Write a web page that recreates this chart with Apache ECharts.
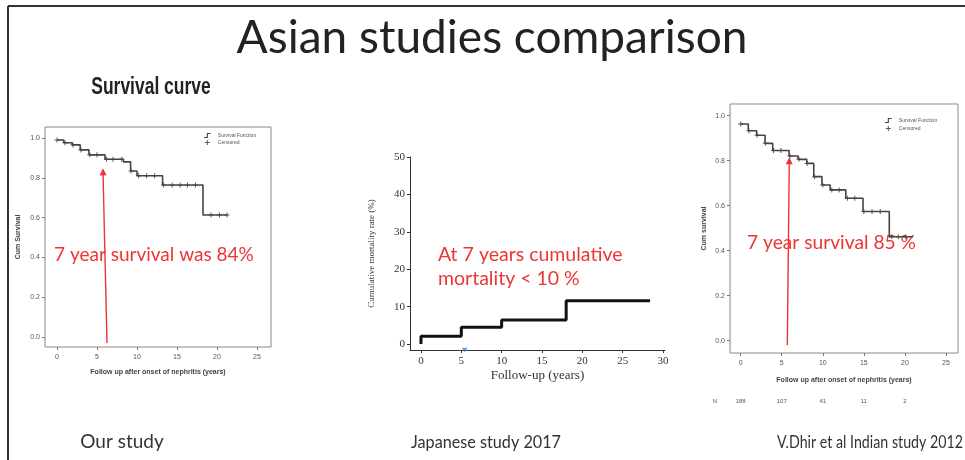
<!DOCTYPE html>
<html>
<head>
<meta charset="utf-8">
<script src="https://cdn.jsdelivr.net/npm/echarts@6/dist/echarts.min.js"></script>
<style>
html, body { margin: 0; padding: 0; background: #fff; }
#chart { width: 965px; height: 460px; }
</style>
</head>
<body>
<div id="chart"></div>
<script>
// ---- Our study: Kaplan–Meier survival (years, cumulative survival) ----
const ourTimes = [0, 0.85, 1.9, 2.9, 4, 6, 8.3, 9.2, 10, 13.2, 18.25, 21.3];
const ourSurv = [0.99, 0.976, 0.965, 0.94, 0.915, 0.893, 0.88, 0.834, 0.81, 0.764, 0.613, 0.613];
const ourCensored = [0, 1, 2, 3, 4.1, 5, 6.2, 7, 8.1, 9.25, 10.2, 11.2, 12.2, 13.3, 14.4, 15.4, 16.3, 17.3, 19.25, 20.3, 21.25];
const ourArrow = [[6.25, -0.03], [5.75, 0.83]];

// ---- Japanese study 2017: cumulative mortality rate (%) ----
const jpTimes = [0, 0, 5, 10, 18, 28.4];
const jpMortality = [0, 2.1, 4.5, 6.4, 11.6, 11.6];
const jpMarker = [5.5, -1.3];

// ---- V.Dhir et al Indian study 2012: Kaplan–Meier survival ----
const inTimes = [0, 0.93, 1.95, 2.97, 3.9, 5.9, 7.0, 8.05, 8.9, 9.9, 10.9, 12.8, 14.9, 18.1, 21];
const inSurv = [0.963, 0.933, 0.913, 0.877, 0.845, 0.821, 0.806, 0.788, 0.729, 0.692, 0.670, 0.633, 0.574, 0.462, 0.462];
const inCensored = [0, 1, 2, 3, 4, 4.9, 6, 7.1, 8.1, 9, 10, 11.1, 12, 13, 13.9, 15, 16, 17, 18.4, 19.2, 20.1];
const inArrow = [[5.68, -0.02], [5.92, 0.80]];
const riskTimes = [0, 5, 10, 15, 20];
const nAtRisk = [188, 107, 41, 11, 2];

// ---- tick labels ----
const survTicks = [0, 0.2, 0.4, 0.6, 0.8, 1.0];
const yearTicks25 = [0, 5, 10, 15, 20, 25];
const yearTicks30 = [0, 5, 10, 15, 20, 25, 30];
const mortTicks = [0, 10, 20, 30, 40, 50];

function zip(xs, ys) { return xs.map((x, i) => [x, ys[i]]); }
function survivalAt(times, surv, t) {
  let v = surv[0];
  for (let i = 0; i < times.length; i++) if (times[i] <= t) v = surv[i];
  return v;
}

const stepIcon = 'path://M0,9 H5 V2 H12 V4 H7 V11 H0 Z';
const plusIcon = 'path://M4,0 H6 V4 H10 V6 H6 V10 H4 V6 H0 V4 H4 Z';
const RED = '#ee3535';
const SPSS_GRAY = '#555';
const CAL = 'Lato, "Open Sans", sans-serif';
const SERIF = '"Liberation Serif", "DejaVu Serif", serif';

function spssX(gridIndex, min, max, nameGap) {
  return {
    type: 'value', gridIndex, min, max,
    name: 'Follow up after onset of nephritis (years)',
    nameLocation: 'middle', nameGap,
    nameTextStyle: { fontSize: 7, fontWeight: 'bold', color: '#444', fontFamily: 'Arial, sans-serif' },
    axisLine: { show: false, onZero: false },
    axisTick: { show: true, length: 3, lineStyle: { color: '#777' }, customValues: yearTicks25 },
    axisLabel: { fontSize: 7, color: SPSS_GRAY, margin: 7, customValues: yearTicks25, fontFamily: 'Arial, sans-serif' },
    splitLine: { show: false }
  };
}
function spssY(gridIndex, min, max, name, nameGap) {
  return {
    type: 'value', gridIndex, min, max,
    name, nameLocation: 'middle', nameGap, nameRotate: 90,
    nameTextStyle: { fontSize: 7, fontWeight: 'bold', color: '#444', fontFamily: 'Arial, sans-serif' },
    axisLine: { show: false, onZero: false },
    axisTick: { show: true, length: 3, lineStyle: { color: '#777' }, customValues: survTicks },
    axisLabel: { fontSize: 7, color: SPSS_GRAY, margin: 5, customValues: survTicks,
                 formatter: v => v.toFixed(1), fontFamily: 'Arial, sans-serif' },
    splitLine: { show: false }
  };
}

function caption(text, x, fontSize, scaleX) {
  return { type: 'text', x, y: 442, scaleX, originX: 0, originY: 0,
    style: { text, fontSize, fontFamily: CAL, fill: '#333', align: 'center', verticalAlign: 'middle' } };
}
function note(text, x, y, fontSize) {
  return { type: 'text', x, y,
    style: { text, fontSize, fontFamily: CAL, fill: RED, align: 'left', verticalAlign: 'middle' } };
}

const chart = echarts.init(document.getElementById('chart'), null, { renderer: 'canvas' });

chart.setOption({
  animation: false,
  backgroundColor: '#fff',
  grid: [
    { left: 45, top: 127, width: 226, height: 220, show: true, borderColor: '#888', borderWidth: 1, backgroundColor: 'transparent' },
    { left: 410, top: 157, width: 255, height: 193 },
    { left: 730, top: 104, width: 228, height: 249, show: true, borderColor: '#888', borderWidth: 1, backgroundColor: 'transparent' }
  ],
  xAxis: [
    spssX(0, -1.5, 26.75, 22),
    {
      type: 'value', gridIndex: 1, min: -1.36, max: 30.25,
      name: 'Follow-up (years)', nameLocation: 'middle', nameGap: 19,
      nameTextStyle: { fontSize: 13, color: '#333', fontFamily: SERIF },
      axisLine: { show: true, onZero: false, lineStyle: { color: '#333', width: 1 } },
      axisTick: { show: true, length: 3, lineStyle: { color: '#333' }, customValues: yearTicks30 },
      axisLabel: { fontSize: 11, color: '#333', margin: 6, customValues: yearTicks30, fontFamily: SERIF },
      splitLine: { show: false }
    },
    spssX(2, -1.3, 26.47, 24),
    {
      type: 'value', gridIndex: 2, min: -1.3, max: 26.47, position: 'bottom', offset: 48,
      name: 'N', nameLocation: 'start', nameGap: 13,
      nameTextStyle: { fontSize: 6, color: SPSS_GRAY, fontFamily: 'Arial, sans-serif', verticalAlign: 'middle' },
      axisLine: { show: false, onZero: false }, axisTick: { show: false },
      axisLabel: { fontSize: 6, color: SPSS_GRAY, margin: 0, verticalAlign: 'middle', customValues: riskTimes,
                   formatter: v => String(nAtRisk[riskTimes.indexOf(v)]), fontFamily: 'Arial, sans-serif' },
      splitLine: { show: false }
    }
  ],
  yAxis: [
    spssY(0, -0.05, 1.055, 'Cum Survival', 23),
    {
      type: 'value', gridIndex: 1, min: -1.6, max: 50,
      name: 'Cumulative mortality rate (%)', nameLocation: 'middle', nameGap: 34, nameRotate: 90,
      nameTextStyle: { fontSize: 9, color: '#333', fontFamily: SERIF },
      axisLine: { show: true, onZero: false, lineStyle: { color: '#333', width: 1 } },
      axisTick: { show: true, length: 3, lineStyle: { color: '#333' }, customValues: mortTicks },
      axisLabel: { fontSize: 11, color: '#333', margin: 5, customValues: mortTicks, fontFamily: SERIF },
      splitLine: { show: false }
    },
    spssY(2, -0.055, 1.052, 'Cum survival', 22)
  ],
  legend: [
    {
      left: 199, top: 128, orient: 'vertical', itemWidth: 11, itemHeight: 5, itemGap: 2,
      textStyle: { fontSize: 5, color: '#555' }, selectedMode: false,
      data: [{ name: 'Survival Function', icon: stepIcon }, { name: 'Censored', icon: plusIcon }]
    },
    {
      left: 880, top: 113, orient: 'vertical', itemWidth: 11, itemHeight: 5, itemGap: 3,
      textStyle: { fontSize: 5, color: '#555' }, selectedMode: false,
      data: [{ name: 'Survival Function', icon: stepIcon }, { name: 'Censored', icon: plusIcon }]
    }
  ],
  series: [
    {
      name: 'Survival Function', type: 'line', xAxisIndex: 0, yAxisIndex: 0, step: 'end',
      data: zip(ourTimes, ourSurv), showSymbol: false,
      itemStyle: { color: '#444' }, lineStyle: { color: '#444', width: 1.6 }
    },
    {
      name: 'Censored', type: 'scatter', xAxisIndex: 0, yAxisIndex: 0,
      data: ourCensored.map(t => [t, survivalAt(ourTimes, ourSurv, t)]),
      symbol: plusIcon, symbolSize: 5, itemStyle: { color: '#333' }
    },
    {
      type: 'lines', coordinateSystem: 'cartesian2d', xAxisIndex: 0, yAxisIndex: 0,
      data: [{ coords: ourArrow }], symbol: ['none', 'triangle'], symbolSize: 7,
      lineStyle: { color: RED, width: 1.4, opacity: 1 }
    },
    {
      name: 'Cumulative mortality', type: 'line', xAxisIndex: 1, yAxisIndex: 1, step: 'end',
      data: zip(jpTimes, jpMortality), showSymbol: false,
      lineStyle: { color: '#111', width: 3 }
    },
    {
      type: 'scatter', xAxisIndex: 1, yAxisIndex: 1, clip: false,
      data: [jpMarker], symbol: 'triangle', symbolSize: 5, symbolRotate: -60,
      itemStyle: { color: '#3c7fd0' }
    },
    {
      name: 'Survival Function', type: 'line', xAxisIndex: 2, yAxisIndex: 2, step: 'end',
      data: zip(inTimes, inSurv), showSymbol: false,
      itemStyle: { color: '#444' }, lineStyle: { color: '#444', width: 1.6 }
    },
    {
      name: 'Censored', type: 'scatter', xAxisIndex: 2, yAxisIndex: 2,
      data: inCensored.map(t => [t, survivalAt(inTimes, inSurv, t)]),
      symbol: plusIcon, symbolSize: 5, itemStyle: { color: '#333' }
    },
    {
      type: 'lines', coordinateSystem: 'cartesian2d', xAxisIndex: 2, yAxisIndex: 2,
      data: [{ coords: inArrow }], symbol: ['none', 'triangle'], symbolSize: 7,
      lineStyle: { color: RED, width: 1.4, opacity: 1 }
    }
  ],
  graphic: [
    { type: 'line', shape: { x1: 8, y1: 6, x2: 965, y2: 6 }, style: { stroke: '#333', lineWidth: 2 } },
    { type: 'line', shape: { x1: 8, y1: 6, x2: 8, y2: 460 }, style: { stroke: '#333', lineWidth: 2 } },
    { type: 'text', x: 492, y: 38,
      style: { text: 'Asian studies comparison', fontSize: 46, fontWeight: 'normal', fontFamily: CAL,
               fill: '#222', align: 'center', verticalAlign: 'middle' } },
    { type: 'text', x: 151, y: 88, scaleX: 0.76, originX: 0, originY: 0,
      style: { text: 'Survival curve', fontSize: 23, fontWeight: 'bold',
               fontFamily: '"Liberation Sans", Arial, sans-serif',
               fill: '#222', align: 'center', verticalAlign: 'middle' } },
    note('7 year survival was 84%', 54, 255, 19),
    note('At 7 years cumulative', 438, 255, 19.5),
    note('mortality < 10 %', 438, 279, 19.5),
    note('7 year survival 85 %', 747, 243, 19.2),
    caption('Our study', 122, 19, 1),
    caption('Japanese study 2017', 486, 18, 0.9),
    caption('V.Dhir et al Indian study 2012', 870, 18, 0.79)
  ]
});
</script>
</body>
</html>
